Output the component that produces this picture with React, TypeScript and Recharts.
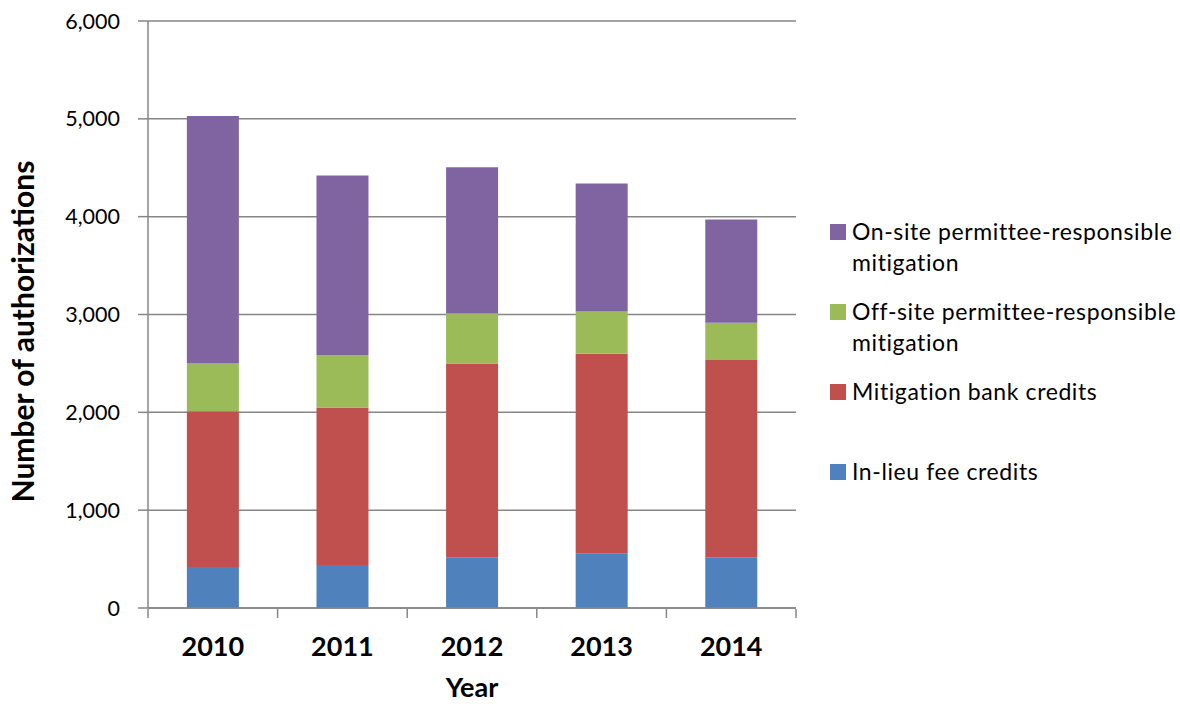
import React from 'react';
import { BarChart, Bar, XAxis, YAxis, CartesianGrid, Legend, Label } from 'recharts';

const years = ['2010', '2011', '2012', '2013', '2014'];
const inLieuFee = [420, 440, 520, 560, 520];
const mitigationBank = [1590, 1610, 1980, 2040, 2015];
const offSitePRM = [490, 535, 510, 430, 380];
const onSitePRM = [2530, 1835, 1495, 1310, 1055];
const yTicks = [0, 1000, 2000, 3000, 4000, 5000, 6000];
const boundaryTicks = [0, 1, 2, 3, 4, 5];

const seriesNames = {
  inLieu: 'In-lieu fee credits',
  bank: 'Mitigation bank credits',
  offSite: 'Off-site permittee-responsible mitigation',
  onSite: 'On-site permittee-responsible mitigation',
};

const colors = {
  inLieu: '#4F81BD',
  bank: '#C0504D',
  offSite: '#9BBB59',
  onSite: '#8064A2',
};

const data = years.map((year, i) => ({
  year,
  idx: i + 0.5,
  inLieu: inLieuFee[i],
  bank: mitigationBank[i],
  offSite: offSitePRM[i],
  onSite: onSitePRM[i],
}));

const FONT = 'Lato, "Open Sans", sans-serif';
const AXIS = '#868686';

const renderLegend = (props: any) => {
  const payload = [...(props.payload || [])].reverse();
  return (
    <div style={{ fontFamily: FONT, fontSize: 23, color: '#000' }}>
      {payload.map((entry: any) => (
        <div key={entry.value} style={{ display: 'flex', height: 80, alignItems: 'flex-start' }}>
          <span
            style={{
              display: 'inline-block',
              width: 16,
              height: 16,
              background: entry.color,
              marginTop: 8,
              marginRight: 6,
              flex: '0 0 auto',
            }}
          />
          <span style={{ lineHeight: '31px', width: 326, letterSpacing: 0.6 }}>{entry.value}</span>
        </div>
      ))}
    </div>
  );
};

const EmptyTick = () => <g />;

export default function App() {
  return (
    <div style={{ position: 'absolute', left: 0, top: 0, width: 1180, height: 704, background: '#fff' }}>
      <BarChart
        width={1180}
        height={704}
        data={data}
        margin={{ top: 21, right: 384, left: 0, bottom: 94 }}
        barCategoryGap="30%"
      >
        <CartesianGrid vertical={false} stroke={AXIS} strokeWidth={1.5} yAxisId="y" xAxisId="cat" />
        <XAxis
          xAxisId="ticks"
          type="number"
          dataKey="idx"
          domain={[0, 5]}
          allowDataOverflow
          ticks={boundaryTicks}
          interval={0}
          height={1}
          tick={EmptyTick}
          tickSize={9}
          axisLine={false}
          tickLine={{ stroke: AXIS, strokeWidth: 1.5 }}
        />
        <XAxis
          xAxisId="cat"
          dataKey="year"
          height={1}
          tickLine={false}
          tickSize={0}
          tickMargin={29}
          axisLine={{ stroke: AXIS, strokeWidth: 1.5 }}
          tick={{ fill: '#000', fontSize: 27, fontWeight: 700, fontFamily: FONT }}
        >
          <Label
            content={(p: any) => {
              const vb = p.viewBox || {};
              return (
                <text
                  x={vb.x + vb.width / 2}
                  y={vb.y + 89}
                  textAnchor="middle"
                  fill="#000"
                  fontSize={27}
                  fontWeight={700}
                  fontFamily={FONT}
                >
                  Year
                </text>
              );
            }}
          />
        </XAxis>
        <YAxis
          yAxisId="y"
          width={148}
          domain={[0, 6000]}
          ticks={yTicks}
          interval={0}
          tickSize={10}
          tickMargin={18}
          tickFormatter={(v: number) => v.toLocaleString('en-US')}
          axisLine={{ stroke: AXIS, strokeWidth: 1.5 }}
          tickLine={{ stroke: AXIS, strokeWidth: 1.5 }}
          tick={{ fill: '#000', fontSize: 21.5, fontFamily: FONT }}
        >
          <Label
            content={(p: any) => {
              const vb = p.viewBox || {};
              const cx = vb.x + 22;
              const cy = vb.y + vb.height / 2 + 17;
              return (
                <text
                  x={cx}
                  y={cy}
                  transform={`rotate(-90 ${cx} ${cy})`}
                  textAnchor="middle"
                  dominantBaseline="central"
                  fill="#000"
                  fontSize={30}
                  fontWeight={700}
                  fontFamily={FONT}
                >
                  Number of authorizations
                </text>
              );
            }}
          />
        </YAxis>
        <Legend
          layout="vertical"
          align="center"
          verticalAlign="middle"
          content={renderLegend}
          wrapperStyle={{ position: 'absolute', left: 830, top: 216, width: 350 }}
        />
        <Bar dataKey="inLieu" name={seriesNames.inLieu} stackId="a" fill={colors.inLieu} xAxisId="cat" yAxisId="y" isAnimationActive={false} />
        <Bar dataKey="bank" name={seriesNames.bank} stackId="a" fill={colors.bank} xAxisId="cat" yAxisId="y" isAnimationActive={false} />
        <Bar dataKey="offSite" name={seriesNames.offSite} stackId="a" fill={colors.offSite} xAxisId="cat" yAxisId="y" isAnimationActive={false} />
        <Bar dataKey="onSite" name={seriesNames.onSite} stackId="a" fill={colors.onSite} xAxisId="cat" yAxisId="y" isAnimationActive={false} />
      </BarChart>
    </div>
  );
}
